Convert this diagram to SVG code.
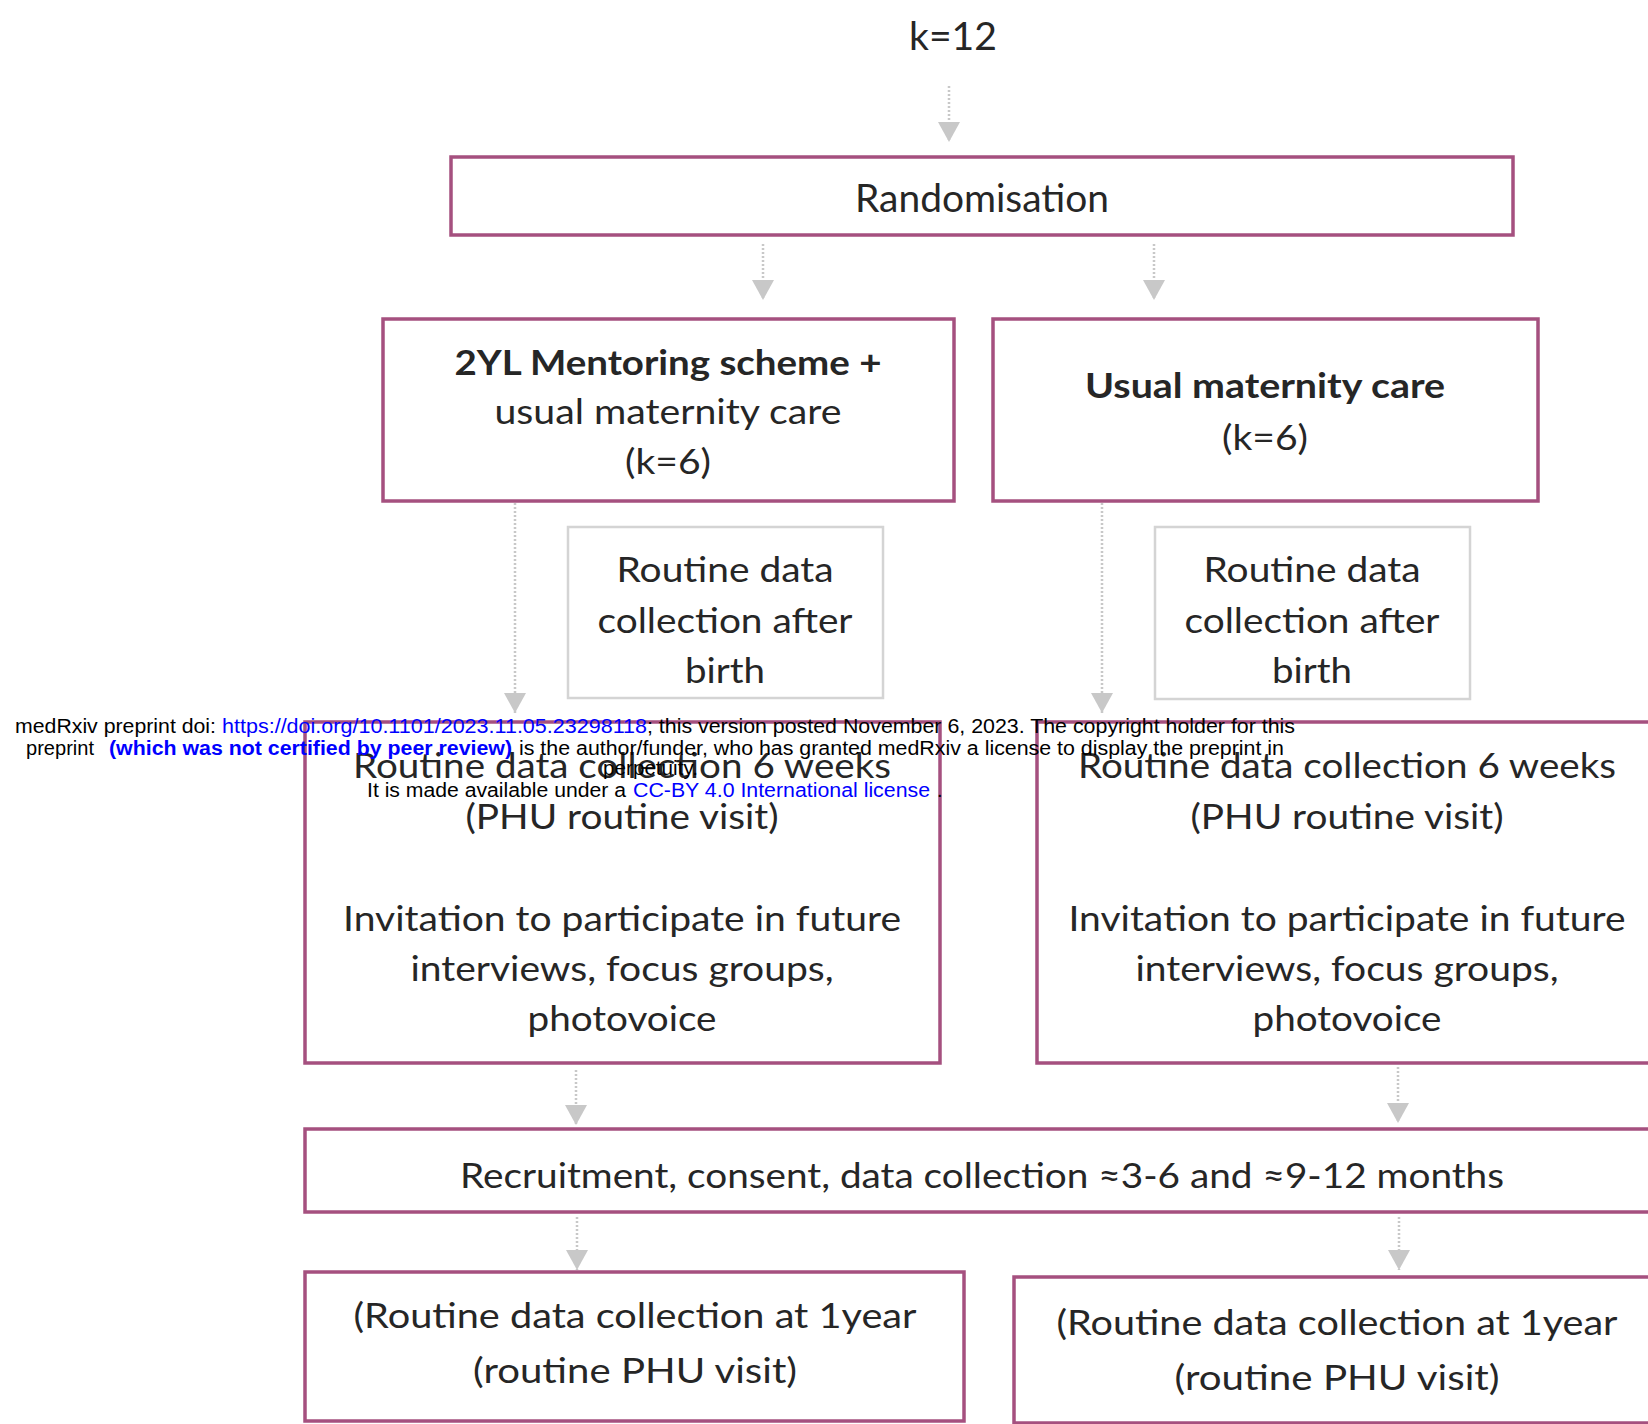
<svg xmlns="http://www.w3.org/2000/svg" width="1648" height="1424" viewBox="0 0 1648 1424">
<style>
.box{fill:#ffffff;stroke:#a5507f;stroke-width:3.5}
.gbox{fill:#ffffff;stroke:#d4d4d4;stroke-width:2.5}
.t{font-family:Lato,"Open Sans","Liberation Sans",sans-serif;font-size:35px;fill:#262626;text-anchor:middle}
.b{font-weight:bold}
.big{font-size:39px}
.conn{stroke:#c8c8c8;stroke-width:2.5;stroke-dasharray:2 2;fill:none}
.w{font-family:"Liberation Sans",Arial,sans-serif;font-size:20px;fill:#000000}
.blue{fill:#0000ff}
</style>
<defs>
<marker id="ah" markerUnits="userSpaceOnUse" viewBox="0 0 20 22" markerWidth="20" markerHeight="22" refX="20" refY="11" orient="auto">
<path d="M0,0 L20,11 L0,22 z" fill="#c8c8c8"/>
</marker>
</defs>
<rect width="1648" height="1424" fill="#ffffff"/>

<g id="connectors">
<line class="conn" x1="949" y1="86" x2="949" y2="142" marker-end="url(#ah)"/>
<line class="conn" x1="763" y1="244" x2="763" y2="300" marker-end="url(#ah)"/>
<line class="conn" x1="1154" y1="244" x2="1154" y2="300" marker-end="url(#ah)"/>
<line class="conn" x1="515" y1="503" x2="515" y2="713" marker-end="url(#ah)"/>
<line class="conn" x1="1102" y1="503" x2="1102" y2="713" marker-end="url(#ah)"/>
<line class="conn" x1="576" y1="1070" x2="576" y2="1125" marker-end="url(#ah)"/>
<line class="conn" x1="1398" y1="1067" x2="1398" y2="1123" marker-end="url(#ah)"/>
<line class="conn" x1="577" y1="1217" x2="577" y2="1270" marker-end="url(#ah)"/>
<line class="conn" x1="1399" y1="1217" x2="1399" y2="1270" marker-end="url(#ah)"/>
</g>

<g id="k12">
<text class="t big" x="953" y="50" textLength="88" lengthAdjust="spacingAndGlyphs">k=12</text>
</g>

<g id="randomisation">
<rect class="box" x="451" y="157" width="1062" height="78"/>
<text class="t big" x="982" y="212" textLength="254" lengthAdjust="spacingAndGlyphs">Randomisation</text>
</g>

<g id="intervention">
<rect class="box" x="383" y="319" width="571" height="182"/>
<text class="t b" x="668" y="375" textLength="427" lengthAdjust="spacingAndGlyphs">2YL Mentoring scheme +</text>
<text class="t" x="668" y="424" textLength="347" lengthAdjust="spacingAndGlyphs">usual maternity care</text>
<text class="t" x="668" y="474" textLength="86" lengthAdjust="spacingAndGlyphs">(k=6)</text>
</g>

<g id="control">
<rect class="box" x="993" y="319" width="545" height="182"/>
<text class="t b" x="1265" y="398" textLength="360" lengthAdjust="spacingAndGlyphs">Usual maternity care</text>
<text class="t" x="1265" y="450" textLength="86" lengthAdjust="spacingAndGlyphs">(k=6)</text>
</g>

<g id="birth-left">
<rect class="gbox" x="568" y="527" width="315" height="171"/>
<text class="t" x="725" y="582" textLength="217" lengthAdjust="spacingAndGlyphs">Routine data</text>
<text class="t" x="725" y="633" textLength="255" lengthAdjust="spacingAndGlyphs">collection after</text>
<text class="t" x="725" y="683" textLength="80" lengthAdjust="spacingAndGlyphs">birth</text>
</g>

<g id="birth-right">
<rect class="gbox" x="1155" y="527" width="315" height="172"/>
<text class="t" x="1312" y="582" textLength="217" lengthAdjust="spacingAndGlyphs">Routine data</text>
<text class="t" x="1312" y="633" textLength="255" lengthAdjust="spacingAndGlyphs">collection after</text>
<text class="t" x="1312" y="683" textLength="80" lengthAdjust="spacingAndGlyphs">birth</text>
</g>

<g id="six-weeks-left">
<rect class="box" x="305" y="722" width="635" height="341"/>
<text class="t" x="622" y="778" textLength="538" lengthAdjust="spacingAndGlyphs">Routine data collection 6 weeks</text>
<text class="t" x="622" y="829" textLength="313" lengthAdjust="spacingAndGlyphs">(PHU routine visit)</text>
<text class="t" x="622" y="931" textLength="558" lengthAdjust="spacingAndGlyphs">Invitation to participate in future</text>
<text class="t" x="622" y="981" textLength="423" lengthAdjust="spacingAndGlyphs">interviews, focus groups,</text>
<text class="t" x="622" y="1031" textLength="189" lengthAdjust="spacingAndGlyphs">photovoice</text>
</g>

<g id="six-weeks-right">
<rect class="box" x="1037" y="722" width="640" height="341"/>
<text class="t" x="1347" y="778" textLength="538" lengthAdjust="spacingAndGlyphs">Routine data collection 6 weeks</text>
<text class="t" x="1347" y="829" textLength="313" lengthAdjust="spacingAndGlyphs">(PHU routine visit)</text>
<text class="t" x="1347" y="931" textLength="557" lengthAdjust="spacingAndGlyphs">Invitation to participate in future</text>
<text class="t" x="1347" y="981" textLength="423" lengthAdjust="spacingAndGlyphs">interviews, focus groups,</text>
<text class="t" x="1347" y="1031" textLength="189" lengthAdjust="spacingAndGlyphs">photovoice</text>
</g>

<g id="recruitment">
<rect class="box" x="305" y="1129" width="1372" height="83"/>
<text class="t" x="982" y="1188" textLength="1044" lengthAdjust="spacingAndGlyphs">Recruitment, consent, data collection ≈3-6 and ≈9-12 months</text>
</g>

<g id="one-year-left">
<rect class="box" x="305" y="1272" width="659" height="149"/>
<text class="t" x="635" y="1328" textLength="563" lengthAdjust="spacingAndGlyphs">(Routine data collection at 1year</text>
<text class="t" x="635" y="1383" textLength="324" lengthAdjust="spacingAndGlyphs">(routine PHU visit)</text>
</g>

<g id="one-year-right">
<rect class="box" x="1014" y="1277" width="663" height="146"/>
<text class="t" x="1337" y="1335" textLength="561" lengthAdjust="spacingAndGlyphs">(Routine data collection at 1year</text>
<text class="t" x="1337" y="1390" textLength="325" lengthAdjust="spacingAndGlyphs">(routine PHU visit)</text>
</g>

<g id="watermark">
<text class="w" x="15" y="733" textLength="201" lengthAdjust="spacingAndGlyphs">medRxiv preprint doi:</text>
<text class="w blue" x="222" y="733" textLength="425" lengthAdjust="spacingAndGlyphs">https://doi.org/10.1101/2023.11.05.23298118</text>
<text class="w" x="647" y="733" textLength="648" lengthAdjust="spacingAndGlyphs">; this version posted November 6, 2023. The copyright holder for this</text>
<text class="w" x="26" y="755" textLength="68" lengthAdjust="spacingAndGlyphs">preprint</text>
<text class="w blue" x="109" y="755" font-weight="bold" textLength="403" lengthAdjust="spacingAndGlyphs">(which was not certified by peer review)</text>
<text class="w" x="519" y="755" textLength="765" lengthAdjust="spacingAndGlyphs">is the author/funder, who has granted medRxiv a license to display the preprint in</text>
<text class="w" x="603" y="775" textLength="95" lengthAdjust="spacingAndGlyphs">perpetuity.</text>
<text class="w" x="367" y="797" textLength="259" lengthAdjust="spacingAndGlyphs">It is made available under a</text>
<text class="w blue" x="633" y="797" textLength="297" lengthAdjust="spacingAndGlyphs">CC-BY 4.0 International license</text>
<text class="w" x="937" y="797">.</text>
</g>
</svg>
